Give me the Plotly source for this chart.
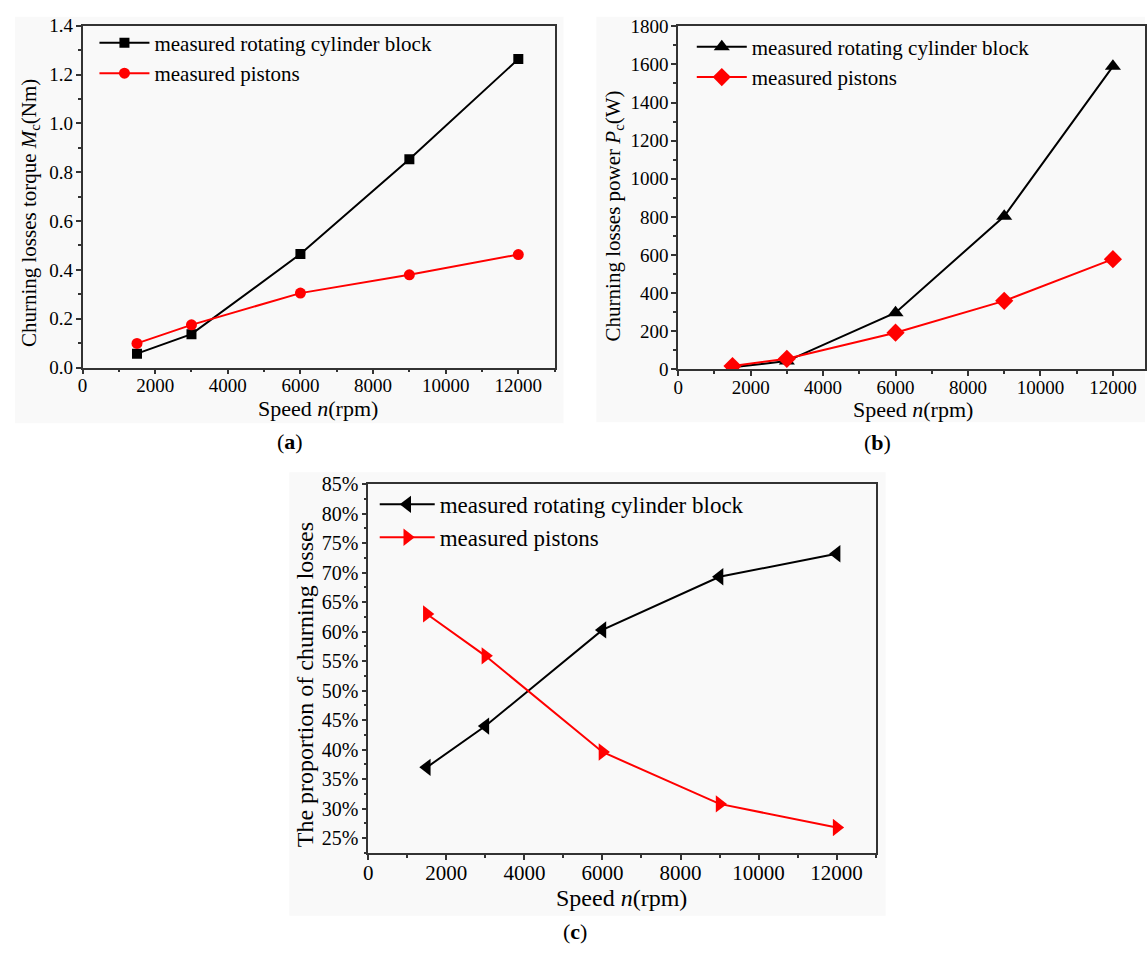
import plotly.graph_objects as go

W, H = 1147, 956

# ---------------- data ----------------
speed = [1500, 3000, 6000, 9000, 12000]

torque_block = [0.057, 0.137, 0.465, 0.853, 1.263]
torque_pistons = [0.099, 0.175, 0.305, 0.380, 0.463]

power_block = [10, 43, 297, 803, 1590]
power_pistons = [17, 55, 192, 359, 578]

prop_block = [37.0, 44.0, 60.3, 69.3, 73.2]
prop_pistons = [63.0, 55.9, 39.6, 30.8, 26.8]

name_block = "measured rotating cylinder block"
name_pistons = "measured pistons"

x_ticks = [0, 2000, 4000, 6000, 8000, 10000, 12000]
x_labels = ["0", "2000", "4000", "6000", "8000", "10000", "12000"]
torque_ticks = [0.0, 0.2, 0.4, 0.6, 0.8, 1.0, 1.2, 1.4]
torque_labels = ["0.0", "0.2", "0.4", "0.6", "0.8", "1.0", "1.2", "1.4"]
power_ticks = [0, 200, 400, 600, 800, 1000, 1200, 1400, 1600, 1800]
power_labels = [str(v) for v in power_ticks]
pct_ticks = [25, 30, 35, 40, 45, 50, 55, 60, 65, 70, 75, 80, 85]
pct_labels = ["25%", "30%", "35%", "40%", "45%", "50%", "55%", "60%", "65%", "70%", "75%", "80%", "85%"]

FONT = "Liberation Serif, serif"
AX = "#333333"
BG = "#f9f9f9"


def px(x):
    return x / W


def py(y):
    return 1 - y / H


fig = go.Figure()

# (a)
fig.add_trace(go.Scatter(x=speed, y=torque_block, name=name_block, mode="lines+markers",
                         line=dict(color="black", width=2),
                         marker=dict(symbol="square", size=10, color="black"),
                         xaxis="x", yaxis="y", legend="legend"))
fig.add_trace(go.Scatter(x=speed, y=torque_pistons, name=name_pistons, mode="lines+markers",
                         line=dict(color="#ff0000", width=2),
                         marker=dict(symbol="circle", size=11, color="#ff0000"),
                         xaxis="x", yaxis="y", legend="legend"))
# (b)
fig.add_trace(go.Scatter(x=speed, y=power_block, name=name_block, mode="lines+markers",
                         line=dict(color="black", width=2),
                         marker=dict(symbol="triangle-up", size=14, color="black"),
                         xaxis="x2", yaxis="y2", legend="legend2"))
fig.add_trace(go.Scatter(x=speed, y=power_pistons, name=name_pistons, mode="lines+markers",
                         line=dict(color="#ff0000", width=2),
                         marker=dict(symbol="diamond", size=14, color="#ff0000"),
                         xaxis="x2", yaxis="y2", legend="legend2"))
# (c)
fig.add_trace(go.Scatter(x=speed, y=prop_block, name=name_block, mode="lines+markers",
                         line=dict(color="black", width=2),
                         marker=dict(symbol="triangle-left", size=15, color="black"),
                         xaxis="x3", yaxis="y3", legend="legend3"))
fig.add_trace(go.Scatter(x=speed, y=prop_pistons, name=name_pistons, mode="lines+markers",
                         line=dict(color="#ff0000", width=2),
                         marker=dict(symbol="triangle-right", size=15, color="#ff0000"),
                         xaxis="x3", yaxis="y3", legend="legend3"))


def xax(domain, rng, anchor, size, mirror=True):
    return dict(domain=domain, range=rng, anchor=anchor,
                tickmode="array", tickvals=x_ticks, ticktext=x_labels,
                showline=True, linecolor=AX, linewidth=1.5, mirror=mirror,
                ticks="outside", ticklen=5, tickwidth=1.5, tickcolor=AX,
                ticklabelstandoff=-5,
                minor=dict(dtick=1000, tick0=0, ticks="outside", ticklen=3, tickwidth=1.5, tickcolor=AX),
                showgrid=False, zeroline=False,
                tickfont=dict(family=FONT, size=size, color="black"))


def yax(domain, rng, anchor, size, tv, tt, minor):
    return dict(domain=domain, range=rng, anchor=anchor,
                tickmode="array", tickvals=tv, ticktext=tt,
                showline=True, linecolor=AX, linewidth=1.5, mirror=True,
                ticks="outside", ticklen=5, tickwidth=1.5, tickcolor=AX,
                ticklabelstandoff=-1,
                minor=dict(dtick=minor, tick0=0, ticks="outside", ticklen=3, tickwidth=1.5, tickcolor=AX),
                showgrid=False, zeroline=False,
                tickfont=dict(family=FONT, size=size, color="black"))


layout = dict(
    width=W, height=H, margin=dict(l=0, r=0, t=0, b=0),
    paper_bgcolor="white", plot_bgcolor="rgba(0,0,0,0)",
    font=dict(family=FONT, color="black"),
    xaxis=xax([px(78), px(553)], [0, 13000], "y", 19),
    yaxis=yax([py(365), py(15)], [0, 1.4], "x", 19, torque_ticks, torque_labels, 0.1),
    xaxis2=xax([px(677.3), 1.0], [0, 12886], "y2", 19),
    yaxis2=yax([py(366.7), py(15.7)], [0, 1800], "x2", 19, power_ticks, power_labels, 100),
    xaxis3=xax([px(365.5), px(876)], [0, 13000], "y3", 21),
    yaxis3=yax([py(861.7), py(484.3)], [22.5, 85], "x3", 20, pct_ticks, pct_labels, 2.5),
    legend=dict(x=px(90), y=py(12), xanchor="left", yanchor="top", bgcolor="rgba(0,0,0,0)",
                font=dict(family=FONT, size=21), itemwidth=50, tracegroupgap=0),
    legend2=dict(x=px(691), y=py(16), xanchor="left", yanchor="top", bgcolor="rgba(0,0,0,0)",
                 font=dict(family=FONT, size=21), itemwidth=50, tracegroupgap=0),
    legend3=dict(x=px(372), y=py(483), xanchor="left", yanchor="top", bgcolor="rgba(0,0,0,0)",
                 font=dict(family=FONT, size=23), itemwidth=55, tracegroupgap=0),
    showlegend=True,
)

shapes = []
for (x0, y0, x1, y1) in [(10, 6, 562, 422), (595, 6, 1147, 421), (286, 472, 886, 926)]:
    shapes.append(dict(type="rect", xref="paper", yref="paper", x0=px(x0), x1=px(x1),
                       y0=py(y1), y1=py(y0), fillcolor=BG, line=dict(width=0), layer="below"))
layout["shapes"] = shapes

ann = []


def add_text(text, x, y, size, angle=0):
    ann.append(dict(text=text, x=px(x), y=py(y), xref="paper", yref="paper",
                    showarrow=False, textangle=angle, xanchor="center", yanchor="middle",
                    font=dict(family=FONT, size=size, color="black")))


add_text("Churning losses torque <i>M</i><sub>c</sub>(Nm)", 25, 207, 21, -90)
add_text("Speed <i>n</i>(rpm)", 315, 407, 22)
add_text("(<b>a</b>)", 287, 441, 22)

add_text("Churning losses power <i>P</i><sub>c</sub>(W)", 613, 210, 21, -90)
add_text("Speed <i>n</i>(rpm)", 914, 408, 22)
add_text("(<b>b</b>)", 878, 442, 22)

add_text("The proportion of churning losses", 302, 690, 24, -90)
add_text("Speed <i>n</i>(rpm)", 620, 908, 24)
add_text("(<b>c</b>)", 573, 942, 22)

layout["annotations"] = ann

fig.update_layout(**layout)
fig.write_html("out.html")
